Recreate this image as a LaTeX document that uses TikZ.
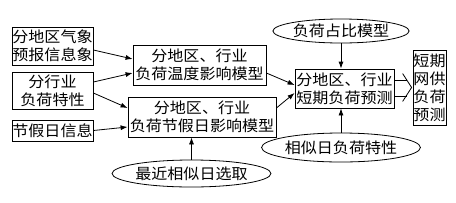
\documentclass[tikz,border=0pt]{standalone}
\usepackage{fontspec}
\usetikzlibrary{shapes.geometric,arrows.meta}
\newfontfamily\cjkfont[FakeStretch=1.07]{Noto Sans CJK SC}
\begin{document}
\begin{tikzpicture}[x=1pt,y=-1pt,
  every node/.style={font=\cjkfont\fontsize{15}{18}\selectfont, inner sep=0pt, align=center},
  box/.style={draw, line width=0.8pt, rectangle},
  oval/.style={draw, line width=0.8pt, ellipse},
  arr/.style={line width=0.8pt, -{Latex[length=7pt,width=5pt]}},
  ln/.style={line width=0.8pt}]
\fill[white] (0,0) rectangle (456,202);
\useasboundingbox (0,0) rectangle (456,202);
% left inputs
\node[box, minimum width=81pt, minimum height=38pt] (A) at (52.5,46) {分地区气象\\预报信息象};
\node[box, minimum width=81pt, minimum height=37pt] (B) at (52.5,90.5) {分行业\\负荷特性};
\node[box, minimum width=81pt, minimum height=21pt] (C) at (52.5,130.5) {节假日信息};
% models
\node[box, minimum width=133pt, minimum height=40pt] (D) at (199.5,65) {分地区、行业\\负荷温度影响模型};
\node[box, minimum width=148pt, minimum height=40pt] (E) at (202,117) {分地区、行业\\负荷节假日影响模型};
% forecast
\node[box, minimum width=99pt, minimum height=39pt] (F) at (344.5,88.5) {分地区、行业\\短期负荷预测};
\node[box, minimum width=33pt, minimum height=75pt] (G) at (429.5,87.5) {短期\\网供\\负荷\\预测};
% ellipses
\node[oval, minimum width=108pt, minimum height=24pt] (P) at (341,31) {负荷占比模型};
\node[oval, minimum width=122pt, minimum height=29pt] (S) at (341,147.5) {相似日负荷特性};
\node[oval, minimum width=123pt, minimum height=27pt] (R) at (191.5,173.5) {最近相似日选取};
% connectors
\draw[arr] ([yshift=-4pt]A.east) -- ([yshift=6pt]D.west);
\draw[arr] ([yshift=8.5pt]B.east) -- ([yshift=-8pt]D.west);
\draw[arr] ([yshift=-2.5pt]B.east) -- ([yshift=9pt]E.west);
\draw[arr] (C.east) -- ([yshift=-10pt]E.west);
\draw[arr] ([yshift=-8pt]D.east) -- ([yshift=3.5pt]F.west);
\draw[arr] ([yshift=9pt]E.east) -- ([yshift=-4.5pt]F.west);
\draw[arr] (P.south) -- (P.south |- F.north);
\draw[arr] (S.north) -- (S.north |- F.south);
\draw[arr] (R.north) -- (R.north |- E.south);
% hollow double arrow F -> G
\coordinate (tip) at ([xshift=-1pt]G.west);
\coordinate (c1) at ([xshift=-10pt,yshift=14pt]G.west);
\coordinate (c2) at ([xshift=-10pt,yshift=-14pt]G.west);
\draw[ln, line join=miter] (c1) -- (tip) -- (c2);
\draw[ln] ([yshift=8pt]F.east) -- ++(13pt,0);
\draw[ln] ([yshift=-8pt]F.east) -- ++(13pt,0);
\end{tikzpicture}
\end{document}
